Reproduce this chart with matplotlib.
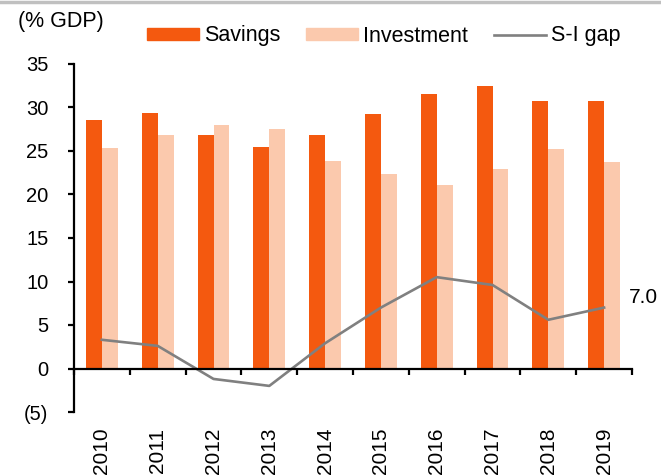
import numpy as np
import matplotlib
matplotlib.use('Agg')
from matplotlib import pyplot as plt
from matplotlib.lines import Line2D

plt.rcParams['font.family']= ['Liberation Sans', 'DejaVu Sans']

years= ['2010','2011','2012','2013','2014','2015','2016','2017','2018','2019']
savings= [28.6, 29.4, 26.8, 25.5, 26.8, 29.3, 31.6, 32.5, 30.8, 30.7]
investment= [25.3, 26.8, 28.0, 27.5, 23.9, 22.3, 21.1, 22.9, 25.2, 23.7]
gap= [3.3, 2.6, -1.2, -2.0, 2.9, 7.0, 10.5, 9.6, 5.6, 7.0]
yticks= [-5, 0, 5, 10, 15, 20, 25, 30, 35]
ytick_labels= ['(5)', '0', '5', '10', '15', '20', '25', '30', '35']

c_sav= '#F4590F'
c_inv= '#FBC9AD'
c_gap= '#808080'
fs= 14.5
fs_leg= 15.5

fig= plt.figure(figsize=(6.61,4.75), dpi=100)
# axes box in pixels: left 74, right 632, top 64, bottom 412
ax= fig.add_axes([74/661, 1-412/475, 558/661, 348/475])

x= np.arange(len(years))
w= 0.286
ax.bar(x-w/2, savings, w, color=c_sav, label='Savings')
ax.bar(x+w/2, investment, w, color=c_inv, label='Investment')
ax.plot(x, gap, color=c_gap, lw=1.9, label='S-I gap')
ax.annotate('%.1f'%gap[-1], (x[-1], gap[-1]), xytext=(25, 10), textcoords='offset pixels',
            fontsize=fs+0.5, va='center', ha='left', annotation_clip=False)

ax.set_xlim(-0.5, len(years)-0.5)
ax.set_ylim(-5, 35)
ax.set_yticks(yticks)
ax.set_yticklabels(ytick_labels, fontsize=fs)
for s in ['top','right']:
    ax.spines[s].set_visible(False)
ax.spines['bottom'].set_position(('data',0))
ax.spines['left'].set_linewidth(1.6)
ax.spines['bottom'].set_linewidth(1.6)

ax.set_xticks(np.arange(len(years)+1)-0.5)
ax.set_xticklabels([])
ax.tick_params(axis='x', direction='out', length=4, width=1.6)
ax.tick_params(axis='y', direction='out', length=4.3, width=1.6, pad=14)
for i, yr in enumerate(years):
    ax.text(x[i], -6.8, yr, rotation=90, ha='center', va='top', fontsize=15)

fig.text(18/661, 1-22/475, '(% GDP)', fontsize=fs_leg, va='center', ha='left')
handles= [plt.Rectangle((0,0),1,1,color=c_sav), plt.Rectangle((0,0),1,1,color=c_inv),
          Line2D([0],[0],color=c_gap,lw=1.9)]
fig.legend(handles, ['Savings','Investment','S-I gap'], loc='center left',
           bbox_to_anchor=(147/661, 1-36/475), ncol=3, frameon=False, fontsize=fs_leg,
           handlelength=2.4, handleheight=0.45, columnspacing=1.2, handletextpad=0.25,
           borderpad=0, borderaxespad=0)

fig.add_artist(Line2D([0,1],[1-2/475,1-2/475], color='#C0C0C0', lw=2.5))

plt.savefig('out.png', dpi=100)
